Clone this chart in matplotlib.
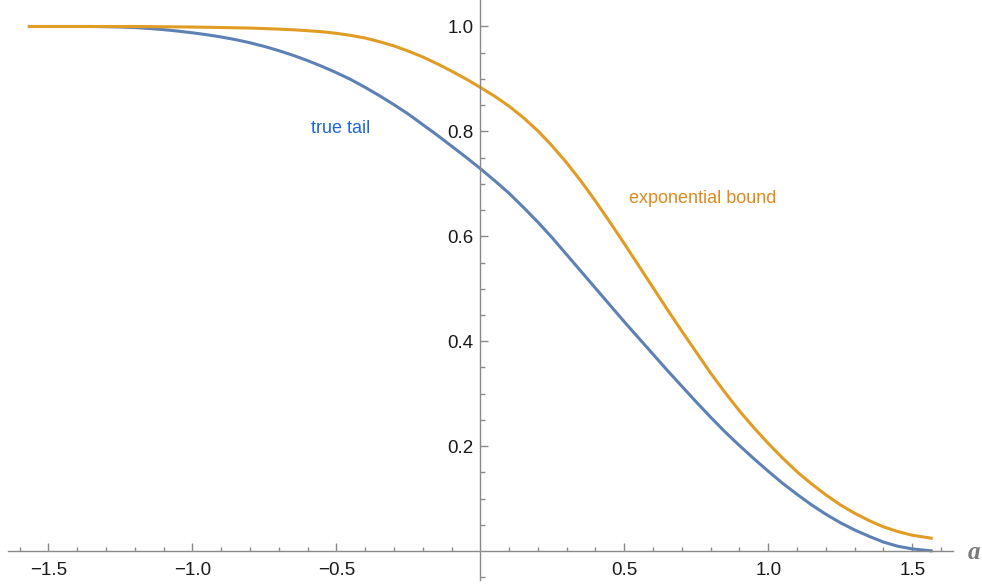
import matplotlib.pyplot as plt
from matplotlib.ticker import FixedLocator

# values
a_true = [-1.571, -1.5, -1.4, -1.35, -1.3, -1.25, -1.2, -1.15, -1.1, -1.05, -1.0,
          -0.95, -0.9, -0.85, -0.8, -0.75, -0.7, -0.65, -0.6, -0.55, -0.5, -0.45,
          -0.4, -0.35, -0.3, -0.25, -0.2, -0.15, -0.1, -0.05, 0.0, 0.05, 0.1, 0.15,
          0.2, 0.25, 0.3, 0.35, 0.4, 0.45, 0.5, 0.55, 0.6, 0.65, 0.7, 0.75, 0.8,
          0.85, 0.9, 0.95, 1.0, 1.05, 1.1, 1.15, 1.2, 1.25, 1.3, 1.35, 1.4, 1.45,
          1.5, 1.571]
true_tail = [1.000, 1.000, 1.000, 1.000, 0.9995, 0.999, 0.998, 0.9962, 0.994, 0.9912,
             0.988, 0.9843, 0.980, 0.975, 0.969, 0.962, 0.954, 0.945, 0.935, 0.924,
             0.912, 0.899, 0.884, 0.868, 0.851, 0.833, 0.813, 0.793, 0.772, 0.751,
             0.729, 0.706, 0.682, 0.655, 0.627, 0.597, 0.565, 0.533, 0.501, 0.469,
             0.437, 0.406, 0.375, 0.344, 0.314, 0.284, 0.255, 0.227, 0.201, 0.176,
             0.152, 0.129, 0.108, 0.088, 0.070, 0.054, 0.040, 0.028, 0.017, 0.009,
             0.004, 0.000]

a_bound = [-1.571, -1.2, -1.1, -1.0, -0.95, -0.9, -0.85, -0.8, -0.75, -0.7, -0.65,
           -0.6, -0.55, -0.5, -0.45, -0.4, -0.35, -0.3, -0.25, -0.2, -0.15, -0.1,
           -0.05, 0.0, 0.05, 0.1, 0.15, 0.2, 0.25, 0.3, 0.35, 0.4, 0.45, 0.5, 0.55,
           0.6, 0.65, 0.7, 0.75, 0.8, 0.85, 0.9, 0.95, 1.0, 1.05, 1.1, 1.15, 1.2,
           1.25, 1.3, 1.35, 1.4, 1.45, 1.5, 1.571]
exp_bound = [1.000, 1.000, 0.9995, 0.999, 0.9985, 0.998, 0.9975, 0.997, 0.996, 0.995,
             0.9937, 0.992, 0.990, 0.987, 0.983, 0.978, 0.971, 0.963, 0.953, 0.942,
             0.929, 0.915, 0.900, 0.884, 0.867, 0.848, 0.826, 0.801, 0.772, 0.740,
             0.705, 0.667, 0.627, 0.586, 0.544, 0.502, 0.460, 0.419, 0.379, 0.339,
             0.302, 0.267, 0.235, 0.205, 0.177, 0.151, 0.128, 0.107, 0.088, 0.072,
             0.058, 0.046, 0.037, 0.030, 0.024]

x_major = [-1.5, -1.0, -0.5, 0.5, 1.0, 1.5]
x_labels = ['\u22121.5', '\u22121.0', '\u22120.5', '0.5', '1.0', '1.5']
y_major = [0.2, 0.4, 0.6, 0.8, 1.0]
y_labels = ['0.2', '0.4', '0.6', '0.8', '1.0']

plt.rcParams['font.family'] = ['Liberation Sans', 'DejaVu Sans']

fig = plt.figure(figsize=(9.82, 5.86), dpi=100)
ax = fig.add_axes([8 / 982, 6 / 586, 944.6 / 982, 580 / 586])

ax.plot(a_true, true_tail, color='#5e81b5', lw=2.2, solid_capstyle='butt')
ax.plot(a_bound, exp_bound, color='#e19c24', lw=2.2, solid_capstyle='butt')

ax.text(-0.484, 0.806, 'true tail', color='#1f66d6', fontsize=13,
        ha='center', va='center')
ax.text(0.771, 0.673, 'exponential bound', color='#e08a1c', fontsize=13,
        ha='center', va='center')
ax.text(1.714, -0.002, 'a', color='#7a7a7a', fontsize=18, family='Liberation Serif',
        style='italic', weight='bold', ha='center', va='center', clip_on=False)

ax.set_xlim(-1.64, 1.64)
ax.set_ylim(-0.0553, 1.0505)

for s in ['top', 'right']:
    ax.spines[s].set_visible(False)
ax.spines['left'].set_position(('data', 0))
ax.spines['bottom'].set_position(('data', 0))
for s in ['left', 'bottom']:
    ax.spines[s].set_color('#8a8a8a')
    ax.spines[s].set_linewidth(1.0)

ax.xaxis.set_major_locator(FixedLocator(x_major))
ax.set_xticklabels(x_labels)
ax.xaxis.set_minor_locator(FixedLocator([-1.6, -1.4, -1.3, -1.2, -1.1, -0.9, -0.8, -0.7,
                                         -0.6, -0.4, -0.3, -0.2, -0.1, 0.1, 0.2, 0.3,
                                         0.4, 0.6, 0.7, 0.8, 0.9, 1.1, 1.2, 1.3, 1.4, 1.6]))
ax.yaxis.set_major_locator(FixedLocator(y_major))
ax.set_yticklabels(y_labels)
ax.yaxis.set_minor_locator(FixedLocator([-0.05, 0.05, 0.1, 0.15, 0.25, 0.3, 0.35, 0.45,
                                         0.5, 0.55, 0.65, 0.7, 0.75, 0.85, 0.9, 0.95]))

ax.tick_params(which='both', direction='in', color='#8a8a8a', width=1.0,
               labelcolor='#1a1a1a', labelsize=13.5)
ax.tick_params(axis='x', which='major', length=5.8, pad=8)
ax.tick_params(axis='x', which='minor', length=3.2)
ax.tick_params(axis='y', which='major', length=5.8, pad=5)
ax.tick_params(axis='y', which='minor', length=3.6)

fig.savefig('out.png', dpi=100)
